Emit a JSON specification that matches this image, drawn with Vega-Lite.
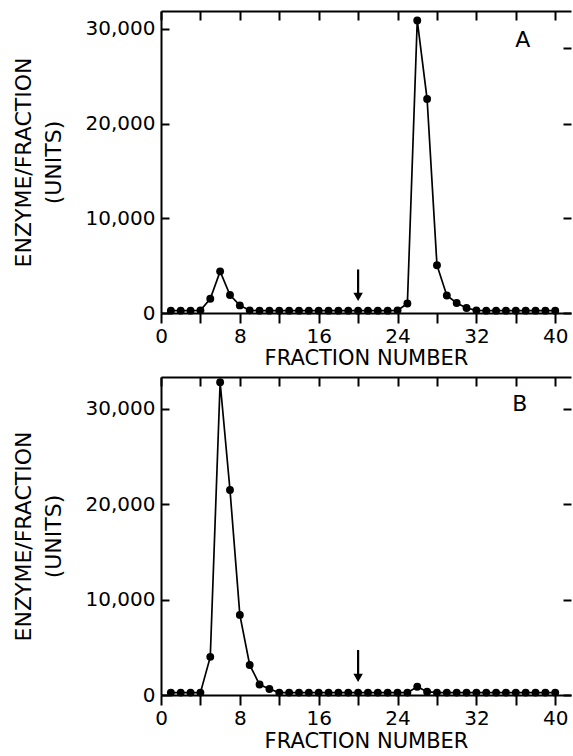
{
  "$schema": "https://vega.github.io/schema/vega-lite/v6.json",
  "background": "white",
  "padding": {"left": 12, "top": 10, "right": 0, "bottom": 0},
  "spacing": 64,
  "bounds": "flush",
  "config": {
    "view": {"stroke": null},
    "font": "DejaVu Sans",
    "axis": {
      "grid": false,
      "domainColor": "black",
      "tickColor": "black",
      "labelColor": "black",
      "titleColor": "black",
      "domainWidth": 2,
      "tickWidth": 2,
      "labelFont": "DejaVu Sans",
      "labelFontSize": 20,
      "labelFontWeight": "normal",
      "titleFont": "DejaVu Sans",
      "titleFontSize": 21,
      "titleFontWeight": "normal"
    }
  },
  "vconcat": [
    {
      "width": 410,
      "height": 302,
      "data": {"values": [
        {"fraction": 1, "units": 250}, {"fraction": 2, "units": 250}, {"fraction": 3, "units": 250}, {"fraction": 4, "units": 280},
        {"fraction": 5, "units": 1500}, {"fraction": 6, "units": 4400}, {"fraction": 7, "units": 1900}, {"fraction": 8, "units": 800},
        {"fraction": 9, "units": 280}, {"fraction": 10, "units": 250}, {"fraction": 11, "units": 250}, {"fraction": 12, "units": 250},
        {"fraction": 13, "units": 250}, {"fraction": 14, "units": 250}, {"fraction": 15, "units": 250}, {"fraction": 16, "units": 250},
        {"fraction": 17, "units": 250}, {"fraction": 18, "units": 250}, {"fraction": 19, "units": 250}, {"fraction": 20, "units": 250},
        {"fraction": 21, "units": 250}, {"fraction": 22, "units": 250}, {"fraction": 23, "units": 250}, {"fraction": 24, "units": 280},
        {"fraction": 25, "units": 1000}, {"fraction": 26, "units": 30900}, {"fraction": 27, "units": 22600}, {"fraction": 28, "units": 5050},
        {"fraction": 29, "units": 1850}, {"fraction": 30, "units": 1060}, {"fraction": 31, "units": 530}, {"fraction": 32, "units": 280},
        {"fraction": 33, "units": 250}, {"fraction": 34, "units": 250}, {"fraction": 35, "units": 250}, {"fraction": 36, "units": 250},
        {"fraction": 37, "units": 250}, {"fraction": 38, "units": 250}, {"fraction": 39, "units": 250}, {"fraction": 40, "units": 250}
      ]},
      "resolve": {"axis": {"x": "independent", "y": "independent"}},
      "layer": [
        {
          "mark": {"type": "line", "color": "black", "strokeWidth": 1.7},
          "encoding": {
            "x": {"field": "fraction", "type": "quantitative",
              "scale": {"domain": [0, 41.6], "nice": false, "zero": false},
              "axis": {"orient": "bottom", "values": [0,4,8,12,16,20,24,28,32,36,40], "labelExpr": "datum.value % 8 === 0 ? datum.label : ''", "tickSize": 10, "labelPadding": 3, "title": "FRACTION NUMBER", "titlePadding": 1, "labelFlush": false}},
            "y": {"field": "units", "type": "quantitative",
              "scale": {"domain": [0, 31900], "nice": false},
              "axis": {"orient": "left", "values": [0, 10000, 20000, 30000], "format": ",d", "tickSize": -8, "labelPadding": 14, "title": ["ENZYME/FRACTION", "(UNITS)"], "titleFontSize": 22, "titleLineHeight": 30, "titlePadding": 20}}
          }
        },
        {
          "mark": {"type": "point", "filled": true, "color": "black", "opacity": 1, "size": 62},
          "encoding": {
            "x": {"field": "fraction", "type": "quantitative",
              "axis": {"orient": "top", "values": [0,4,8,12,16,20,24,28,32,36,40], "tickSize": -9, "labels": false, "title": null}},
            "y": {"field": "units", "type": "quantitative",
              "axis": {"orient": "right", "values": [0, 10000, 20000, 28000], "tickSize": -8, "labels": false, "domain": false, "title": null}}
          }
        },
        {
          "data": {"values": [{"fraction": 20, "top": 4600, "bottom": 2000}]},
          "mark": {"type": "rule", "color": "black", "strokeWidth": 2.2},
          "encoding": {
            "x": {"field": "fraction", "type": "quantitative", "axis": null},
            "y": {"field": "top", "type": "quantitative", "axis": null},
            "y2": {"field": "bottom"}
          }
        },
        {
          "data": {"values": [{"fraction": 20, "tip": 1700}]},
          "mark": {"type": "point", "shape": "triangle-down", "filled": true, "color": "black", "opacity": 1, "size": 90},
          "encoding": {
            "x": {"field": "fraction", "type": "quantitative", "axis": null},
            "y": {"field": "tip", "type": "quantitative", "axis": null}
          }
        },
        {
          "data": {"values": [{"fraction": 36.7, "units": 28800, "label": "A"}]},
          "mark": {"type": "text", "fontSize": 22, "color": "black"},
          "encoding": {
            "x": {"field": "fraction", "type": "quantitative", "axis": null},
            "y": {"field": "units", "type": "quantitative", "axis": null},
            "text": {"field": "label"}
          }
        }
      ]
    },
    {
      "width": 410,
      "height": 318,
      "data": {"values": [
        {"fraction": 1, "units": 250}, {"fraction": 2, "units": 250}, {"fraction": 3, "units": 250}, {"fraction": 4, "units": 250},
        {"fraction": 5, "units": 4000}, {"fraction": 6, "units": 32800}, {"fraction": 7, "units": 21500}, {"fraction": 8, "units": 8400},
        {"fraction": 9, "units": 3150}, {"fraction": 10, "units": 1100}, {"fraction": 11, "units": 630}, {"fraction": 12, "units": 250},
        {"fraction": 13, "units": 250}, {"fraction": 14, "units": 250}, {"fraction": 15, "units": 250}, {"fraction": 16, "units": 250},
        {"fraction": 17, "units": 250}, {"fraction": 18, "units": 250}, {"fraction": 19, "units": 250}, {"fraction": 20, "units": 250},
        {"fraction": 21, "units": 250}, {"fraction": 22, "units": 250}, {"fraction": 23, "units": 250}, {"fraction": 24, "units": 250},
        {"fraction": 25, "units": 250}, {"fraction": 26, "units": 870}, {"fraction": 27, "units": 350}, {"fraction": 28, "units": 250},
        {"fraction": 29, "units": 250}, {"fraction": 30, "units": 250}, {"fraction": 31, "units": 250}, {"fraction": 32, "units": 250},
        {"fraction": 33, "units": 250}, {"fraction": 34, "units": 250}, {"fraction": 35, "units": 250}, {"fraction": 36, "units": 250},
        {"fraction": 37, "units": 250}, {"fraction": 38, "units": 250}, {"fraction": 39, "units": 250}, {"fraction": 40, "units": 250}
      ]},
      "resolve": {"axis": {"x": "independent", "y": "independent"}},
      "layer": [
        {
          "mark": {"type": "line", "color": "black", "strokeWidth": 1.7},
          "encoding": {
            "x": {"field": "fraction", "type": "quantitative",
              "scale": {"domain": [0, 41.6], "nice": false, "zero": false},
              "axis": {"orient": "bottom", "values": [0,4,8,12,16,20,24,28,32,36,40], "labelExpr": "datum.value % 8 === 0 ? datum.label : ''", "tickSize": 10, "labelPadding": 3, "title": "FRACTION NUMBER", "titlePadding": 2, "labelFlush": false}},
            "y": {"field": "units", "type": "quantitative",
              "scale": {"domain": [0, 33350], "nice": false},
              "axis": {"orient": "left", "values": [0, 10000, 20000, 30000], "format": ",d", "tickSize": -8, "labelPadding": 14, "title": ["ENZYME/FRACTION", "(UNITS)"], "titleFontSize": 22, "titleLineHeight": 30, "titlePadding": 20}}
          }
        },
        {
          "mark": {"type": "point", "filled": true, "color": "black", "opacity": 1, "size": 62},
          "encoding": {
            "x": {"field": "fraction", "type": "quantitative",
              "axis": {"orient": "top", "values": [0,4,8,12,16,20,24,28,32,36,40], "tickSize": -9, "labels": false, "title": null}},
            "y": {"field": "units", "type": "quantitative",
              "axis": {"orient": "right", "values": [0, 10000, 20000, 30000], "tickSize": -8, "labels": false, "domain": false, "title": null}}
          }
        },
        {
          "data": {"values": [{"fraction": 20, "top": 4720, "bottom": 2100}]},
          "mark": {"type": "rule", "color": "black", "strokeWidth": 2.2},
          "encoding": {
            "x": {"field": "fraction", "type": "quantitative", "axis": null},
            "y": {"field": "top", "type": "quantitative", "axis": null},
            "y2": {"field": "bottom"}
          }
        },
        {
          "data": {"values": [{"fraction": 20, "tip": 1800}]},
          "mark": {"type": "point", "shape": "triangle-down", "filled": true, "color": "black", "opacity": 1, "size": 90},
          "encoding": {
            "x": {"field": "fraction", "type": "quantitative", "axis": null},
            "y": {"field": "tip", "type": "quantitative", "axis": null}
          }
        },
        {
          "data": {"values": [{"fraction": 36.4, "units": 30470, "label": "B"}]},
          "mark": {"type": "text", "fontSize": 22, "color": "black"},
          "encoding": {
            "x": {"field": "fraction", "type": "quantitative", "axis": null},
            "y": {"field": "units", "type": "quantitative", "axis": null},
            "text": {"field": "label"}
          }
        }
      ]
    }
  ]
}
